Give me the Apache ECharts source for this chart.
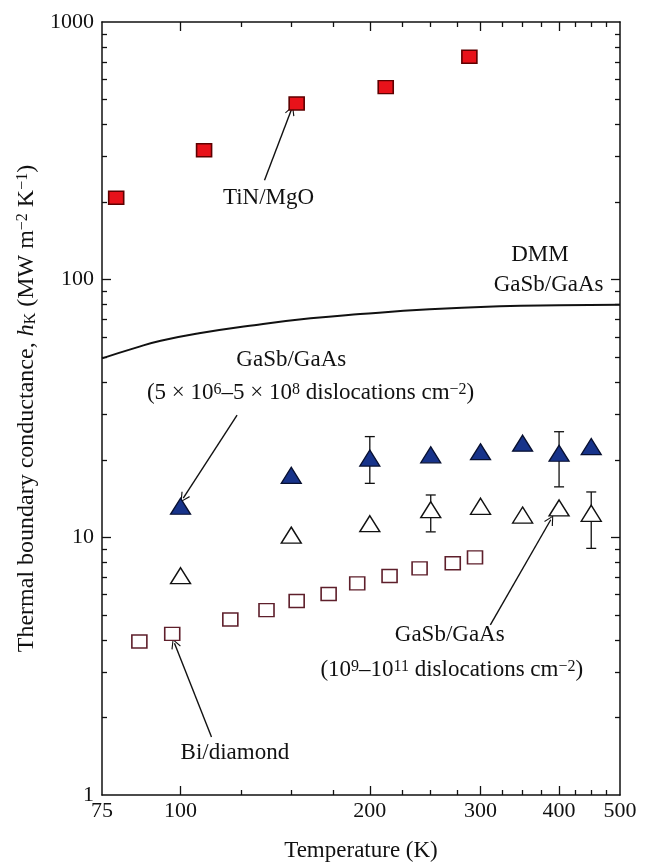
<!DOCTYPE html>
<html><head><meta charset="utf-8">
<script src="https://cdn.jsdelivr.net/npm/echarts@6/dist/echarts.min.js"></script>
<style>html,body{margin:0;padding:0;background:#fff}#c{width:648px;height:863px}</style>
</head><body><div id="c"></div>
<script>
// ---- tick definitions ----
const xTickLabels = [75, 100, 200, 300, 400, 500];
const xMajorTicks = [100, 200, 300, 400];
const xMinorTicks = [125, 150, 175, 225, 250, 275, 325, 350, 375, 425, 450, 475];
const yTickLabels = [1, 10, 100, 1000];
const yMajorTicks = [10, 100];
const yMinorTicks = [2, 3, 4, 5, 6, 7, 8, 9, 20, 30, 40, 50, 60, 70, 80, 90, 200, 300, 400, 500, 600, 700, 800, 900];

// ---- data ----
const tinT = [79, 109, 153, 212, 288];
const tinH = [208, 318, 483, 559, 733];

const dmmT = [75, 85, 93, 107, 131, 161, 193, 249, 322, 400, 500];
const dmmH = [49.5, 54.5, 57.9, 61.9, 66.6, 70.8, 73.5, 76.7, 78.8, 79.6, 80];

const lowDensT = [100, 150, 200, 250, 300, 350, 400, 450];
const lowDensH = [13.2, 17.4, 20.3, 20.9, 21.5, 23.2, 21.2, 22.5];
const lowDensErrT = [200, 400];
const lowDensErrLo = [16.2, 15.7];
const lowDensErrHi = [24.6, 25.7];

const highDensT = [100, 150, 200, 250, 300, 350, 400, 450];
const highDensH = [7.1, 10.2, 11.3, 12.8, 13.2, 12.2, 13.0, 12.4];
const highDensErrT = [250, 450];
const highDensErrLo = [10.5, 9.06];
const highDensErrHi = [14.6, 15.0];

const biT = [86, 97, 120, 137, 153, 172, 191, 215, 240, 271, 294];
const biH = [3.94, 4.22, 4.8, 5.22, 5.66, 6.03, 6.63, 7.08, 7.58, 7.93, 8.36];

// annotation texts (positions in data units)
const annText = [
  'TiN/MgO',
  'DMM',
  'GaSb/GaAs',
  'GaSb/GaAs',
  '(5 × 10{sup|6}–5 × 10{sup|8} dislocations cm{sup|−2})',
  'GaSb/GaAs',
  '(10{sup|9}–10{sup|11} dislocations cm{sup|−2})',
  'Bi/diamond'
];
const annT = [138, 373, 385, 150, 161, 268, 270, 122];
const annH = [207, 125, 95, 48.8, 36.3, 4.18, 3.05, 1.46];

// arrows: start -> end (data units)
const arrowFromT = [136, 123, 311, 112];
const arrowFromH = [243, 29.8, 4.57, 1.68];
const arrowToT = [150, 101, 388, 97.8];
const arrowToH = [455, 14.2, 11.7, 3.88];

// ---- chart ----
const FONT = '"Liberation Serif", "Times New Roman", serif';
const INK = '#111111';
const FS = 22;
const AFS = 23;
const chart = echarts.init(document.getElementById('c'), null, {renderer: 'canvas'});

function zip(a, b) { return a.map((v, i) => [v, b[i]]); }

const axisLine = {show: true, onZero: false, lineStyle: {color: INK, width: 1.5}};
const noLine = {show: false};
function tick(len, vals) {
  return {show: true, inside: true, length: len, customValues: vals, lineStyle: {color: INK, width: 1.3}};
}
const noLabel = {show: false};

const supRich = {
  sup: {fontSize: 16, fontFamily: FONT, color: INK, verticalAlign: 'top', lineHeight: 16},
};

function xAx(position, major, withLabel, withLine) {
  const a = {
    type: 'log', logBase: 10, min: 75, max: 500, position: position, gridIndex: 0,
    axisLine: withLine ? axisLine : noLine,
    axisTick: tick(major ? 9 : 5, major ? xMajorTicks : xMinorTicks),
    axisLabel: noLabel,
    splitLine: {show: false}, minorTick: {show: false}
  };
  if (withLabel) {
    a.axisLabel = {show: true, customValues: xTickLabels, margin: 5, showMinLabel: true, showMaxLabel: true,
      hideOverlap: false,
      formatter: v => String(Math.round(v)), fontFamily: FONT, fontSize: FS, color: INK};
    a.name = 'Temperature (K)';
    a.nameLocation = 'middle';
    a.nameGap = 44;
    a.nameTextStyle = {fontFamily: FONT, fontSize: 23, color: INK};
  }
  return a;
}
function yAx(position, major, withLabel, withLine) {
  const a = {
    type: 'log', logBase: 10, min: 1, max: 1000, position: position, gridIndex: 0,
    axisLine: withLine ? axisLine : noLine,
    axisTick: tick(major ? 9 : 5, major ? yMajorTicks : yMinorTicks),
    axisLabel: noLabel,
    splitLine: {show: false}, minorTick: {show: false}
  };
  if (withLabel) {
    a.axisLabel = {show: true, customValues: yTickLabels, margin: 8, showMinLabel: true, showMaxLabel: true,
      hideOverlap: false,
      formatter: v => String(Math.round(v)), fontFamily: FONT, fontSize: FS, color: INK};
    a.name = 'Thermal boundary conductance, {i|h}{sub|K} (MW m{sup|−2} K{sup|−1})';
    a.nameLocation = 'middle';
    a.nameRotate = 90;
    a.nameGap = 57;
    a.nameTextStyle = {fontFamily: FONT, fontSize: 24, color: INK, rich: {
      i: {fontFamily: FONT, fontSize: 24, fontStyle: 'italic', color: INK},
      sub: {fontFamily: FONT, fontSize: 16, color: INK, verticalAlign: 'bottom', lineHeight: 16},
      sup: {fontFamily: FONT, fontSize: 16, color: INK, verticalAlign: 'top', lineHeight: 16}
    }};
  }
  return a;
}

function errRender(params, api) {
  const t = api.value(0), lo = api.value(1), hi = api.value(2);
  const a = api.coord([t, lo]), b = api.coord([t, hi]);
  const w = 5;
  const st = {stroke: INK, lineWidth: 1.3};
  return {type: 'group', children: [
    {type: 'line', shape: {x1: a[0], y1: a[1], x2: b[0], y2: b[1]}, style: st},
    {type: 'line', shape: {x1: a[0] - w, y1: a[1], x2: a[0] + w, y2: a[1]}, style: st},
    {type: 'line', shape: {x1: b[0] - w, y1: b[1], x2: b[0] + w, y2: b[1]}, style: st}
  ]};
}

const chevron = 'path://M5,0 L10,10 L9,10.7 L5,2.4 L1,10.7 L0,10 Z';

chart.setOption({
  animation: false,
  backgroundColor: '#ffffff',
  grid: {left: 102, right: 28, top: 22, bottom: 68, containLabel: false, outerBoundsMode: 'none'},
  xAxis: [
    xAx('bottom', true, true, true),
    xAx('bottom', false, false, false),
    xAx('top', true, false, true),
    xAx('top', false, false, false)
  ],
  yAxis: [
    yAx('left', true, true, true),
    yAx('left', false, false, false),
    yAx('right', true, false, true),
    yAx('right', false, false, false)
  ],
  series: [
    {name: 'DMM GaSb/GaAs', type: 'line', smooth: true, symbol: 'none', data: zip(dmmT, dmmH),
      lineStyle: {color: INK, width: 2}, z: 2},
    {name: 'err low', type: 'custom', renderItem: errRender, z: 2,
      encode: {x: 0, y: [1, 2]},
      data: lowDensErrT.map((t, i) => [t, lowDensErrLo[i], lowDensErrHi[i]])},
    {name: 'err high', type: 'custom', renderItem: errRender, z: 2,
      encode: {x: 0, y: [1, 2]},
      data: highDensErrT.map((t, i) => [t, highDensErrLo[i], highDensErrHi[i]])},
    {name: 'TiN/MgO', type: 'scatter', symbol: 'rect', symbolSize: [15, 13], data: zip(tinT, tinH), z: 4,
      itemStyle: {color: '#e8121a', borderColor: '#5e0000', borderWidth: 1.5, opacity: 1}},
    {name: 'GaSb/GaAs low', type: 'scatter', symbol: 'triangle', symbolSize: [20, 16], data: zip(lowDensT, lowDensH), z: 4,
      itemStyle: {color: '#17338a', borderColor: '#081030', borderWidth: 1.3, opacity: 1}},
    {name: 'GaSb/GaAs high', type: 'scatter', symbol: 'triangle', symbolSize: [20, 16], data: zip(highDensT, highDensH), z: 4,
      itemStyle: {color: '#ffffff', borderColor: INK, borderWidth: 1.4, opacity: 1}},
    {name: 'Bi/diamond', type: 'scatter', symbol: 'rect', symbolSize: [15, 13], data: zip(biT, biH), z: 4,
      itemStyle: {color: '#ffffff', borderColor: '#5e1f2b', borderWidth: 1.5, opacity: 1}},
    {name: 'arrows', type: 'lines', coordinateSystem: 'cartesian2d', z: 3,
      symbol: ['none', chevron], symbolSize: [9, 10],
      lineStyle: {color: INK, width: 1.4, opacity: 1},
      data: arrowFromT.map((t, i) => ({coords: [[t, arrowFromH[i]], [arrowToT[i], arrowToH[i]]]}))},
    {name: 'labels', type: 'scatter', symbolSize: 1, z: 5,
      itemStyle: {color: 'rgba(0,0,0,0)', opacity: 1},
      label: {show: true, position: 'inside', formatter: p => p.data.name, opacity: 1,
        fontFamily: FONT, fontSize: AFS, color: INK, rich: supRich},
      data: annT.map((t, i) => ({name: annText[i], value: [t, annH[i]]}))}
  ]
});
</script></body></html>
